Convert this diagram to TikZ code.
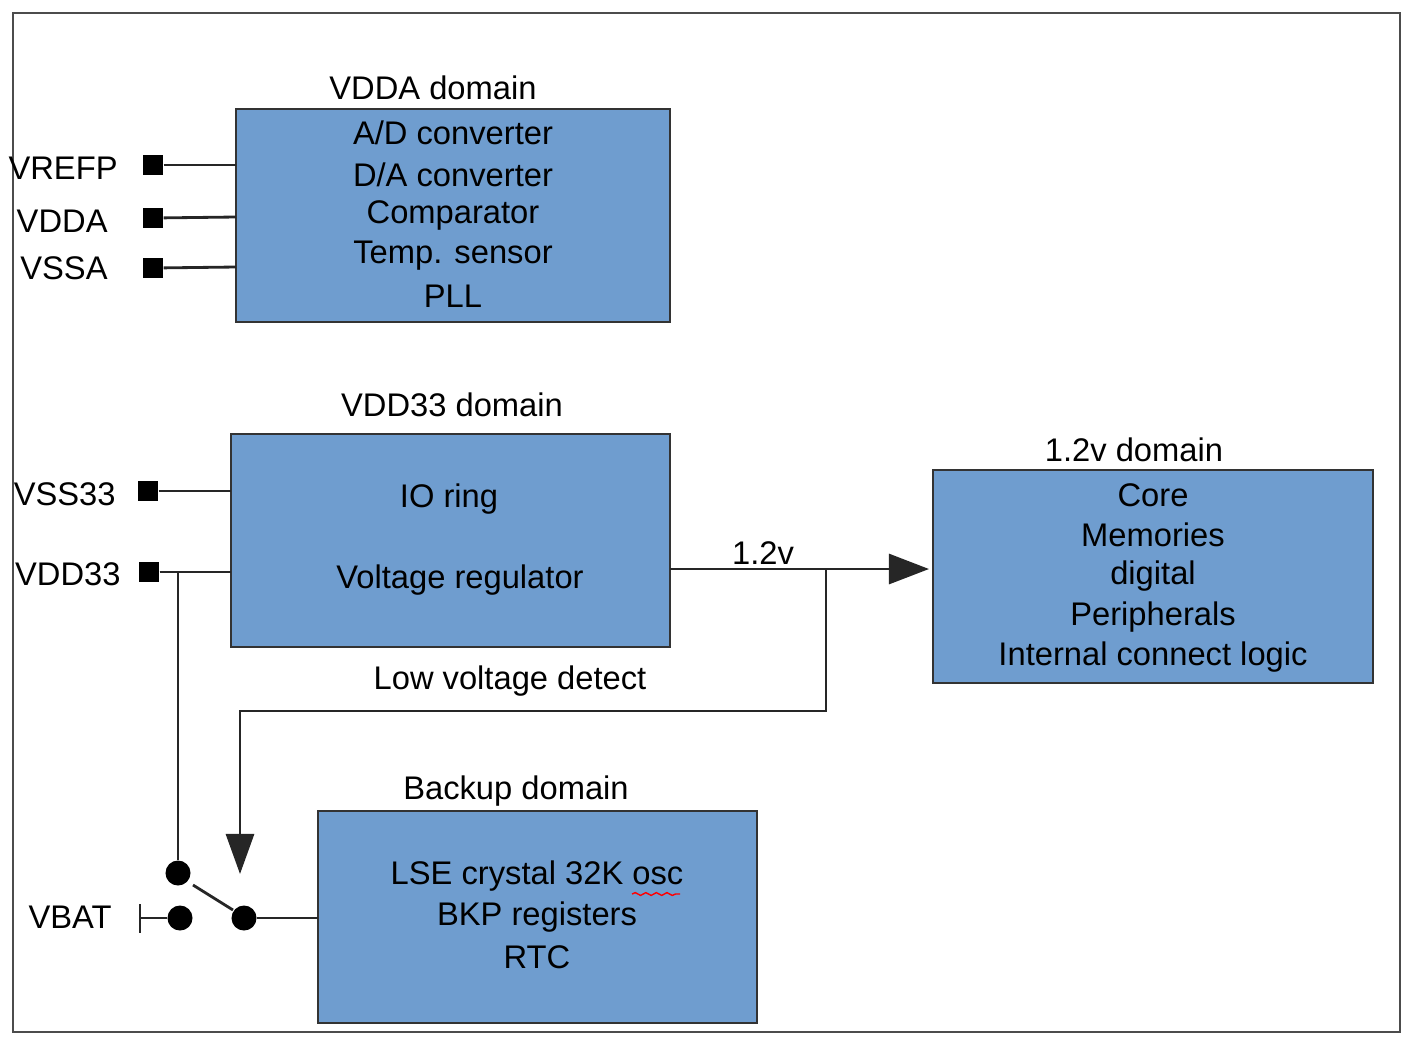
\documentclass[tikz,border=0pt]{standalone}
\usepackage{fontspec}
\setmainfont{Liberation Sans}
\usetikzlibrary{arrows.meta,decorations.pathmorphing}
\definecolor{boxblue}{HTML}{6F9DCF}
\tikzset{
  blk/.style={draw=black!80,fill=boxblue,thick},
  pin/.style={fill=black,minimum size=0.2cm,inner sep=0pt},
  dot/.style={circle,fill=black,minimum size=0.25cm,inner sep=0pt},
  wire/.style={black!85,line width=0.8pt},
  lbl/.style={font=\fontsize{9.3}{11}\selectfont}
}
\begin{document}
\begin{tikzpicture}[x=0.01cm,y=-0.01cm]
    \useasboundingbox (0,0) rectangle (1416,1048);
    \draw[black!70,thick] (13,13) rectangle (1400,1032);
    %VDDA
    \draw[blk] (236,109) rectangle (670,322);
    \node[lbl] at (433,88) {VDDA domain};
    \node[lbl] at (453,133) {A/D converter};
    \node[lbl] at (453,175) {D/A converter};
    \node[lbl] at (453,215) {Comparator};
    \node[lbl] at (453,256) {Temp. sensor};
    \node[lbl] at (453,296) {PLL};
    \node[pin] (vrefp) at (153,165) {};
    \node[pin] (vdda) at (153,218) {};
    \node[pin] (vssa) at (153,268) {};
    \node[lbl,anchor=east] at (130,168) {VREFP};
    \node[lbl,anchor=east] at (120,221) {VDDA};
    \node[lbl,anchor=east] at (120,268) {VSSA};
    \coordinate (avrefp) at (236,165);
    \coordinate (avdda) at (236,217);
    \coordinate (avssa) at (236,267);
    \draw[wire] (vrefp) -- (avrefp);
    \draw[wire] (vdda) -- (avdda);
    \draw[wire] (vssa) -- (avssa);
    %VDD33
    \draw[blk] (231,434) rectangle (670,647);
    \node[lbl] at (452,405) {VDD33 domain};
    \node[lbl] at (449,499) {IO ring};
    \node[lbl] at (460,580) {Voltage regulator};
    \node[pin] (vss33) at (148,491) {};
    \node[pin] (vdd33) at (149,572) {};
    \node[lbl,anchor=east] at (128,494) {VSS33};
    \node[lbl,anchor=east] at (133,574) {VDD33};
    \coordinate (avss33) at (231,491);
    \coordinate (avdd33) at (231,572);
    \draw[wire] (vss33) -- (avss33);
    \draw[wire] (vdd33) -- (avdd33);
    %1.2v
    \draw[blk] (933,470) rectangle (1373,683);
    \node[lbl] at (1134,450) {1.2v domain};
    \node[lbl] at (1153,495) {Core};
    \node[lbl] at (1153,535) {Memories};
    \node[lbl] at (1153,576) {digital};
    \node[lbl] at (1153,617) {Peripherals};
    \node[lbl] at (1153,657) {Internal connect logic};
    \coordinate (regout) at (670,569);
    \coordinate (core) at (929,569);
    \coordinate (tap) at (826,569);
    \draw[wire,-{Triangle[length=0.4cm,width=0.3cm]}] (regout) -- (core);
    \node[lbl] at (763,553) {1.2v};
    \node[lbl] at (510,681) {Low voltage detect};
    %backup
    \draw[blk] (318,811) rectangle (757,1023);
    \node[lbl] at (516,791) {Backup domain};
    \node[lbl] at (537,876) {LSE crystal 32K osc};
    \node[lbl] at (537,917) {BKP registers};
    \node[lbl] at (537,957) {RTC};
    \draw[red,decorate,decoration={snake,amplitude=0.4pt,segment length=3pt}] (632,894) -- (680,894);
    %switch
    \node[dot] (sw1) at (178,873) {};
    \node[dot] (sw2) at (180,918) {};
    \node[dot] (swc) at (244,918) {};
    \coordinate (bk) at (318,918);
    \coordinate (vbat) at (140,918);
    \node[lbl,anchor=east] at (124,917) {VBAT};
    \draw[wire] (140,904) -- (140,933);
    \draw[wire] (vbat) -- (sw2);
    \draw[wire] (swc) -- (bk);
    \draw[wire] (193,885) -- (233,910);
    \draw[wire] (vdd33) -| (sw1);
    \draw[wire,-{Triangle[length=0.4cm,width=0.28cm]}] (tap) -- (826,711) -| (240,874);
\end{tikzpicture}
\end{document}
